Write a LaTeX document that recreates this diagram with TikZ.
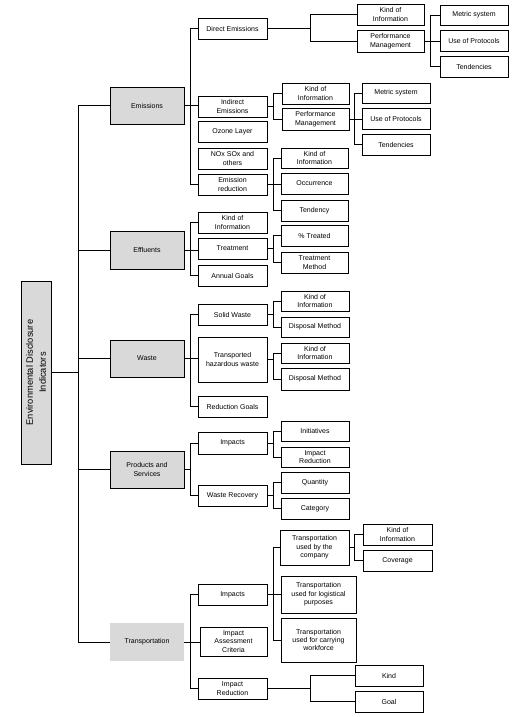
\documentclass[tikz,border=0pt]{standalone}
\usepackage{fontspec}
\setmainfont{Liberation Sans}
\tikzset{
  box/.style={draw, line width=0.8pt, inner sep=0pt, align=center, font=\fontsize{7}{8.4}\selectfont},
  lone/.style={fill=black!15},
  conn/.style={line width=0.8pt},
}
\newcommand\bx[7][]{\node[box,#1,minimum width={(#5-#3)*1pt},minimum height={(#6-#4)*1pt}] (#2) at ({(#3+#5)/2},{-(#4+#6)/2}) {#7};}
\begin{document}
\begin{tikzpicture}[x=1pt,y=1pt]
\useasboundingbox (0,0) rectangle (513,-717);
\coordinate (vR) at (78,0);
\coordinate (v1) at (190,0);
\coordinate (v2) at (273,0);
\coordinate (vA) at (310,0);
\coordinate (vB) at (430,0);
\coordinate (vC) at (354,0);
% root
\bx[lone]{root}{21}{281}{51}{464}{}
\node[rotate=90, align=center, font=\fontsize{9.3}{13}\selectfont] at (root.center) {Environmental Disclosure\\Indicators};
% level 1
\bx[lone]{emis}{110}{87}{184}{124}{Emissions}
\bx[lone]{eff}{110}{231}{184}{269}{Effluents}
\bx[lone]{waste}{110}{340}{184}{377}{Waste}
\bx[lone]{prod}{110}{451}{184}{488}{Products and\\Services}
\bx[lone,draw=none]{trans}{110}{623}{184}{661}{Transportation}
% level 2
\bx{de}{198}{18}{267}{39}{Direct Emissions}
\bx{ie}{198}{96}{267}{117}{Indirect\\Emissions}
\bx{oz}{198}{121}{267}{142}{Ozone Layer}
\bx{nox}{198}{148}{267}{169}{NOx SOx and\\others}
\bx{er}{198}{174}{267}{195}{Emission\\reduction}
\bx{effk}{198}{212}{267}{233}{Kind of\\Information}
\bx{treat}{198}{238}{267}{259}{Treatment}
\bx{annual}{198}{265}{267}{286}{Annual Goals}
\bx{solid}{198}{304}{267}{325}{Solid Waste}
\bx{thw}{198}{337}{267}{382}{Transported\\hazardous waste}
\bx{redg}{198}{396}{267}{417}{Reduction Goals}
\bx{pimp}{198}{432}{267}{454}{Impacts}
\bx{wrec}{198}{485}{267}{506}{Waste Recovery}
\bx{timp}{198}{584}{267}{605}{Impacts}
\bx{tiac}{200}{627}{267}{656}{Impact\\Assessment\\Criteria}
\bx{tired}{198}{678}{267}{699}{Impact\\Reduction}
% level 3
\bx{dek}{357}{4}{424}{25}{Kind of\\Information}
\bx{depm}{357}{30}{424}{52}{Performance\\Management}
\bx{dems}{440}{5}{508}{25}{Metric system}
\bx{deup}{440}{30}{508}{51}{Use of Protocols}
\bx{deten}{440}{56}{508}{77}{Tendencies}
\bx{iek}{282}{83}{349}{104}{Kind of\\Information}
\bx{iepm}{282}{108}{349}{130}{Performance\\Management}
\bx{iems}{362}{83}{430}{103}{Metric system}
\bx{ieup}{362}{108}{430}{129}{Use of Protocols}
\bx{ieten}{362}{134}{430}{155}{Tendencies}
\bx{erk}{281}{148}{348}{168}{Kind of\\Information}
\bx{erocc}{281}{173}{348}{194}{Occurrence}
\bx{erten}{281}{200}{348}{221}{Tendency}
\bx{pct}{281}{225}{348}{246}{\% Treated}
\bx{meth}{281}{252}{348}{273}{Treatment\\Method}
\bx{swk}{281}{291}{349}{311}{Kind of\\Information}
\bx{swd}{281}{317}{349}{337}{Disposal Method}
\bx{thk}{281}{343}{349}{363}{Kind of\\Information}
\bx{thd}{281}{368}{349}{390}{Disposal Method}
\bx{init}{281}{421}{349}{441}{Initiatives}
\bx{pired}{281}{447}{349}{467}{Impact\\Reduction}
\bx{qty}{281}{472}{349}{493}{Quantity}
\bx{cat}{281}{498}{349}{519}{Category}
\bx{ticomp}{280}{530}{349}{565}{Transportation\\used by the\\company}
\bx{tilog}{281}{576}{356}{613}{Transportation\\used for logistical\\purposes}
\bx{tiwork}{281}{618}{356}{662}{Transportation\\used for carrying\\workforce}
\bx{tck}{363}{524}{432}{545}{Kind of\\Information}
\bx{tccov}{363}{550}{432}{571}{Coverage}
\bx{trk}{355}{665}{423}{686}{Kind}
\bx{trg}{355}{691}{423}{712}{Goal}
% connectors: root
\draw[conn] (root.east) -- (root.east -| vR);
\draw[conn] (emis.west -| vR) -- (trans.west -| vR);
\foreach \n in {emis,eff,waste,prod,trans} {\draw[conn] (\n.west -| vR) -- (\n.west);}
% emissions
\draw[conn] (de.west) -- (de.west -| v1) -- (er.west -| v1) -- (er.west);
\draw[conn] (emis.east) -- (emis.east -| ie.west);
\draw[conn] (de.east) -- (de.east -| vA);
\draw[conn] (dek.west) -- (dek.west -| vA) -- (depm.west -| vA) -- (depm.west);
\draw[conn] (depm.east) -- (depm.east -| deup.west);
\draw[conn] (dems.west) -- (dems.west -| vB) -- (deten.west -| vB) -- (deten.west);
\draw[conn] (ie.east) -- (ie.east -| v2);
\draw[conn] (iek.west) -- (iek.west -| v2) -- (iepm.west -| v2) -- (iepm.west);
\draw[conn] (iepm.east) -- (iepm.east -| ieup.west);
\draw[conn] (iems.west) -- (iems.west -| vC) -- (ieten.west -| vC) -- (ieten.west);
\draw[conn] (er.east) -- (er.east -| erocc.west);
\draw[conn] (erk.west) -- (erk.west -| v2) -- (erten.west -| v2) -- (erten.west);
% effluents
\draw[conn] (effk.west) -- (effk.west -| v1) -- (annual.west -| v1) -- (annual.west);
\draw[conn] (eff.east) -- (eff.east -| treat.west);
\draw[conn] (treat.east) -- (treat.east -| v2);
\draw[conn] (pct.west) -- (pct.west -| v2) -- (meth.west -| v2) -- (meth.west);
% waste
\draw[conn] (solid.west) -- (solid.west -| v1) -- (redg.west -| v1) -- (redg.west);
\draw[conn] (waste.east) -- (waste.east -| thw.west);
\draw[conn] (solid.east) -- (solid.east -| v2);
\draw[conn] (swk.west) -- (swk.west -| v2) -- (swd.west -| v2) -- (swd.west);
\draw[conn] (thw.east) -- (thw.east -| v2);
\draw[conn] (thk.west) -- (thk.west -| v2) -- (thd.west -| v2) -- (thd.west);
% products
\draw[conn] (pimp.west) -- (pimp.west -| v1) -- (wrec.west -| v1) -- (wrec.west);
\draw[conn] (prod.east) -- (prod.east -| v1);
\draw[conn] (pimp.east) -- (pimp.east -| v2);
\draw[conn] (init.west) -- (init.west -| v2) -- (pired.west -| v2) -- (pired.west);
\draw[conn] (wrec.east) -- (wrec.east -| v2);
\draw[conn] (qty.west) -- (qty.west -| v2) -- (cat.west -| v2) -- (cat.west);
% transportation
\draw[conn] (timp.west) -- (timp.west -| v1) -- (tired.west -| v1) -- (tired.west);
\draw[conn] (trans.east) -- (trans.east -| tiac.west);
\draw[conn] (timp.east) -- (timp.east -| tilog.west);
\draw[conn] (ticomp.west) -- (ticomp.west -| v2) -- (tiwork.west -| v2) -- (tiwork.west);
\draw[conn] (ticomp.east) -- (ticomp.east -| vC);
\draw[conn] (tck.west) -- (tck.west -| vC) -- (tccov.west -| vC) -- (tccov.west);
\draw[conn] (tired.east) -- (tired.east -| vA);
\draw[conn] (trk.west) -- (trk.west -| vA) -- (trg.west -| vA) -- (trg.west);
\end{tikzpicture}
\end{document}
